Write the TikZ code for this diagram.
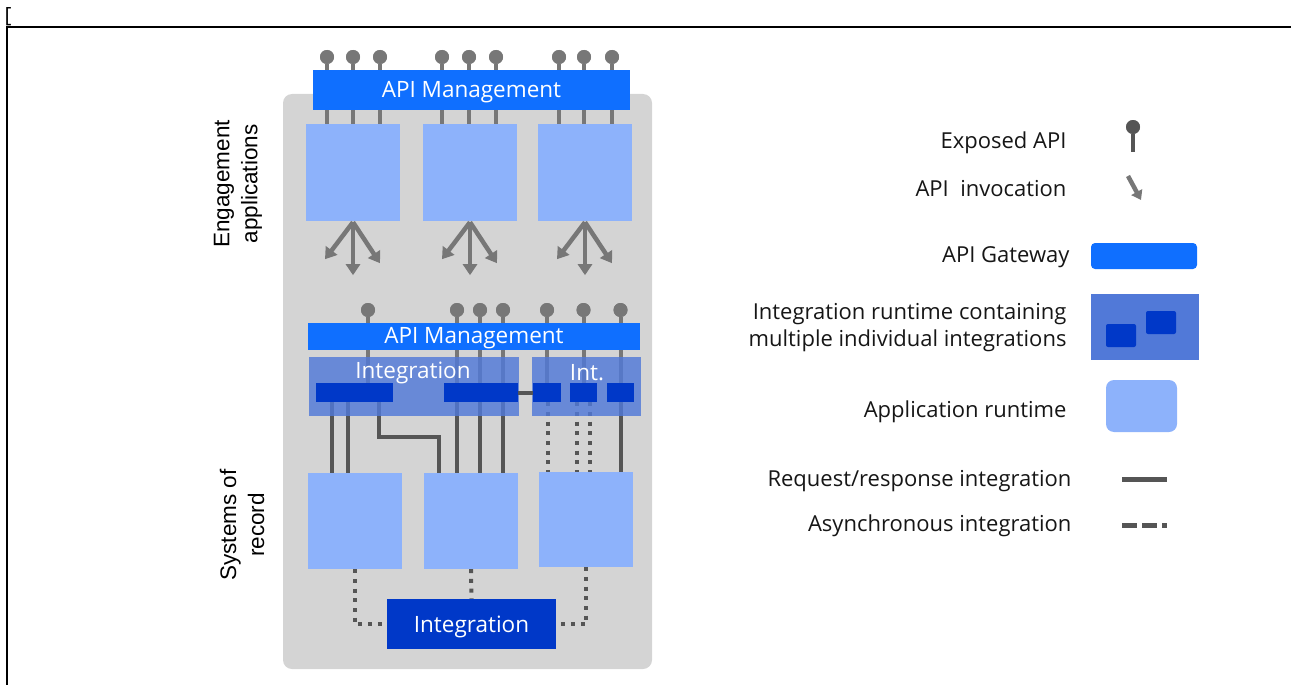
\documentclass[tikz,border=0pt]{standalone}
\usepackage{fontspec}
\setmainfont{Open Sans}
\newfontfamily\labelfont{Liberation Sans}
\usetikzlibrary{arrows.meta}

\definecolor{panelgray}{HTML}{D4D4D4}
\definecolor{appblue}{HTML}{8DB2FB}
\definecolor{gwblue}{HTML}{0F6FFF}
\definecolor{intblue}{HTML}{5179D8}
\definecolor{darkblue}{HTML}{0038C8}
\definecolor{pingray}{HTML}{777777}
\definecolor{linegray}{HTML}{555555}
\definecolor{inkgray}{HTML}{161616}

\begin{document}
\begin{tikzpicture}[x=1pt,y=-1pt,
  apibox/.style={fill=appblue,draw=none,inner sep=0,minimum width=94pt,minimum height=97pt},
  boxfont/.style={font=\fontsize{22.5}{26}\selectfont},
  boxtext/.style={text=white,inner sep=0,boxfont},
  gateway/.style={fill=gwblue,draw=none,inner sep=0},
  intregion/.style={fill=intblue,fill opacity=0.82,draw=none,inner sep=0},
  intbox/.style={fill=darkblue,draw=none,inner sep=0},
  apipin/.style={circle,fill=pingray,draw=none,inner sep=0,minimum size=14pt},
  stem/.style={draw=pingray,line width=4pt},
  sync/.style={draw=linegray,line width=4pt},
  async/.style={draw=linegray,line width=4pt,dash pattern=on 4pt off 5.7pt},
  invoke/.style={draw=pingray,line width=4.5pt,-{Triangle[width=14pt,length=11pt]}},
  legtext/.style={anchor=east,text=inkgray,font=\fontsize{22}{27}\selectfont,align=right},
  sidelabel/.style={rotate=90,align=center,text=black,font=\labelfont\fontsize{22.5}{28}\selectfont}
]
\useasboundingbox (0,0) rectangle (1291,685);

% page frame
\node[anchor=north west,inner sep=0,font=\fontsize{21}{21}\selectfont] (br) at (4.5,7) {[};
\draw[line width=2pt] (6,27) -- (1291,27);
\draw[line width=2pt] (7,27) -- (7,685);

% grey container
\node[fill=panelgray,draw=none,rounded corners=9pt,inner sep=0,
      minimum width=369pt,minimum height=575pt] (panel) at (467.5,381.5) {};

% side labels
\node[sidelabel] (eng) at (238,184) {Engagement\\applications};
\node[sidelabel] (sor) at (242,525) {Systems of\\record};

% ---------------- engagement tier ----------------
\node[apibox] (e1) at (353,172.5) {};
\node[apibox] (e2) at (470,172.5) {};
\node[apibox] (e3) at (585,172.5) {};

\foreach \n/\x in {1/327,2/353,3/380,4/442,5/469,6/496,7/559,8/584,9/612}
  \node[apipin] (t\n) at (\x,57) {};
\foreach \n in {1,2,3} \draw[stem] (t\n) -- (t\n |- e1.north);
\foreach \n in {4,5,6} \draw[stem] (t\n) -- (t\n |- e2.north);
\foreach \n in {7,8,9} \draw[stem] (t\n) -- (t\n |- e3.north);
\foreach \n/\x in {1/327,2/353,3/380,4/442,5/469,6/496,7/559,8/584,9/612}
  \node[apipin] at (\x,57) {};

\node[gateway,minimum width=317pt,minimum height=40pt] (gw1) at (471.5,90) {};
\node[boxtext] (gw1t) at ([yshift=-2.5pt]gw1.center) {API Management};

% API invocations fanning out of each engagement application
\foreach \b in {e1,e2,e3} {
  \draw[invoke] ([yshift=-1pt]\b.south) -- ++(-28,37);
  \draw[invoke] ([yshift=-1pt]\b.south) -- ++(0,53);
  \draw[invoke] ([yshift=-1pt]\b.south) -- ++(27,41);
}

% ---------------- systems of record tier ----------------
\node[apibox,minimum height=96pt] (s1) at (355,521) {};
\node[apibox,minimum height=96pt] (s2) at (471,521) {};
\node[apibox,minimum height=95pt] (s3) at (586,519.5) {};

% integration runtimes (positions only, drawn later)
\coordinate (intLc) at (414,386.5);
\coordinate (intRc) at (586.5,386.5);

% individual integrations
\path (354.5,392.5) node[intbox,minimum width=77pt,minimum height=19pt] (iL) {};
\path (481,392.5)   node[intbox,minimum width=74pt,minimum height=19pt] (iM) {};
\path (547,392.5)   node[intbox,minimum width=28pt,minimum height=19pt] (ia) {};
\path (583.5,392.5) node[intbox,minimum width=27pt,minimum height=19pt] (ib) {};
\path (620.5,392.5) node[intbox,minimum width=27pt,minimum height=19pt] (ic) {};

% exposed APIs of the lower tier
\foreach \n/\x in {1/368,2/457,3/480,4/503,5/547,6/583.5,7/620.5}
  \node[apipin] (m\n) at (\x,310) {};

% stems down to the integrations
\draw[stem] (m1) -- (m1 |- iL.north);
\foreach \n in {2,3,4} \draw[stem] (m\n) -- (m\n |- iM.north);
\draw[stem] (m5) -- (m5 |- ia.north);
\draw[stem] (m6) -- (m6 |- ib.north);
\draw[stem] (m7) -- (m7 |- ic.north);

% request/response links to the systems of record
\draw[sync] ([xshift=-22.5pt]iL.south) -- ([xshift=-22.5pt]iL.south |- s1.north);
\draw[sync] ([xshift=-6.5pt]iL.south) -- ([xshift=-6.5pt]iL.south |- s1.north);
\draw[sync] ([xshift=24.5pt]iL.south) -- ++(0,35) -| ([xshift=-32pt]s2.north);
\foreach \n in {2,3,4} \draw[sync] (m\n |- iM.south) -- (m\n |- s2.north);
\draw[sync] (m7 |- ic.south) -- (m7 |- s3.north);

% asynchronous links to the systems of record
\draw[async] ([xshift=1pt]ia.south) -- ([xshift=1pt]ia.south |- s3.north);
\draw[async] ([xshift=-7pt]ib.south) -- ([xshift=-7pt]ib.south |- s3.north);
\draw[async] ([xshift=6pt]ib.south) -- ([xshift=6pt]ib.south |- s3.north);

% integration runtimes over the links
\node[intregion,minimum width=210pt,minimum height=59pt] (intL) at (intLc) {};
\node[intregion,minimum width=109pt,minimum height=59pt] (intR) at (intRc) {};
\node[boxtext] (intLt) at (413,373) {Integration};
\node[boxtext] (intRt) at (587,373) {Int.};

% individual integrations on top
\foreach \b/\x/\w in {iL/354.5/77,iM/481/74,ia/547/28,ib/583.5/27,ic/620.5/27}
  \node[intbox,minimum width=\w pt,minimum height=19pt] at (\x,392.5) {};
\draw[sync] (iM.east) -- (ia.west);

\node[gateway,minimum width=332pt,minimum height=27pt] (gw2) at (474,336.5) {};
\node[boxtext] (gw2t) at ([yshift=-2pt]gw2.center) {API Management};
\foreach \n/\x in {1/368,2/457,3/480,4/503,5/547,6/583.5,7/620.5}
  \node[apipin] at (\x,310) {};

% shared integration below the systems of record
\node[intbox,minimum width=169pt,minimum height=50pt] (bint) at (471.5,624) {};
\node[boxtext] (bintt) at ([yshift=-2.5pt]bint.center) {Integration};
\draw[async] (s1.south) |- (bint.west);
\draw[async] (s2.south) -- (bint.north);
\draw[async] (s3.south) |- (bint.east);

% ---------------- legend ----------------
\node[legtext] (l1) at (1070,142.5) {Exposed API};
\node[apipin] (k1) at (1133,127) {};
\draw[draw=linegray,line width=4pt] (k1) -- ++(0,25);
\node[apipin,fill=linegray] at (1133,127) {};

\node[legtext] (l2) at (1070,188.5) {API\ \ invocation};
\coordinate (k2) at (1128,176);
\draw[draw=pingray,line width=4.5pt,-{Triangle[width=12pt,length=9pt]}] (k2) -- ++(13,24);

\node[legtext] (l3) at (1073,257.5) {API Gateway};
\node[fill=gwblue,draw=none,rounded corners=4pt,minimum width=106pt,minimum height=26pt,inner sep=0] (k3) at (1144,256) {};

\node[legtext] (l4) at (1070,327.5) {Integration runtime containing\\multiple individual integrations};
\node[fill=intblue,draw=none,minimum width=108pt,minimum height=66pt,inner sep=0] (k4) at (1145,327) {};
\node[intbox,rounded corners=2pt,minimum width=30pt,minimum height=23pt] (k4a) at (1121,335.5) {};
\node[intbox,rounded corners=2pt,minimum width=30pt,minimum height=23pt] (k4b) at (1161,322.5) {};

\node[legtext] (l5) at (1070,411.5) {Application runtime};
\node[fill=appblue,draw=none,rounded corners=8pt,minimum width=71pt,minimum height=52pt,inner sep=0] (k5) at (1141.5,406) {};

\node[legtext] (l6) at (1075,481.5) {Request/response integration};
\coordinate (k6a) at (1122,479);
\coordinate (k6b) at (1167,479);
\draw[draw=linegray,line width=5pt] (k6a) -- (k6b);

\node[legtext] (l7) at (1075,525.5) {Asynchronous integration};
\coordinate (k7a) at (1122,525);
\coordinate (k7b) at (1167,525);
\draw[draw=linegray,line width=5pt,dash pattern=on 15pt off 5pt] (k7a) -- (k7b);
\end{tikzpicture}
\end{document}
